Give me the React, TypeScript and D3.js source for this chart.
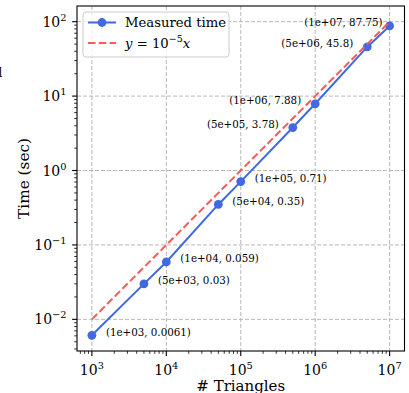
import React from "react";
import * as d3 from "d3";

const nTriangles = [1e3, 5e3, 1e4, 5e4, 1e5, 5e5, 1e6, 5e6, 1e7];
const timeSec = [0.0061, 0.03, 0.059, 0.35, 0.71, 3.78, 7.88, 45.8, 87.75];
const pointLabels = [
  "(1e+03, 0.0061)",
  "(5e+03, 0.03)",
  "(1e+04, 0.059)",
  "(5e+04, 0.35)",
  "(1e+05, 0.71)",
  "(5e+05, 3.78)",
  "(1e+06, 7.88)",
  "(5e+06, 45.8)",
  "(1e+07, 87.75)",
];
const refCoef = 1e-5;
const xTickExps = [3, 4, 5, 6, 7];
const yTickExps = [-2, -1, 0, 1, 2];
const legendLabels = ["Measured time"];

// annotation placement style (pixel offsets from the marker)
const labelDx = [14, 14, 14, 14, 14, -14, -14, -14, -7];
const labelDy = -3.5;

const W = 409;
const H = 393;
const left = 77;
const right = 404.5;
const top = 6;
const bottom = 351;

const FONT = "'DejaVu Serif', serif";
const BLUE = "#4169e1";
const RED = "#ff5a5a";

function minorTicks(domain: [number, number]) {
  const out: number[] = [];
  const lo = Math.floor(Math.log10(domain[0]));
  const hi = Math.ceil(Math.log10(domain[1]));
  for (let e = lo; e <= hi; e++) {
    for (let k = 2; k <= 9; k++) {
      const v = k * Math.pow(10, e);
      if (v >= domain[0] && v <= domain[1]) out.push(v);
    }
  }
  return out;
}

export default function App() {
  const xDom: [number, number] = [Math.pow(10, 2.8), Math.pow(10, 7.2)];
  const yLo = Math.log10(timeSec[0]);
  const yHi = Math.log10(refCoef * nTriangles[nTriangles.length - 1]);
  const yPad = (yHi - yLo) * 0.05;
  const yDom: [number, number] = [Math.pow(10, yLo - yPad), Math.pow(10, yHi + yPad)];
  const x = d3.scaleLog().domain(xDom).range([left, right]);
  const y = d3.scaleLog().domain(yDom).range([bottom, top]);

  const measuredLine = d3
    .line<number>()
    .x((_, i) => x(nTriangles[i]))
    .y((d) => y(d))(timeSec) as string;
  const refLine = d3
    .line<number>()
    .x((d) => x(d))
    .y((d) => y(refCoef * d))(nTriangles) as string;

  const xMinor = minorTicks(xDom);
  const yMinor = minorTicks(yDom);

  const gridStyle = { stroke: "#b0b0b0", strokeWidth: 0.9, strokeDasharray: "4,2" };

  return (
    <svg
      width={W}
      height={H}
      style={{ position: "absolute", left: 0, top: 0, background: "#fff" }}
      fontFamily={FONT}
    >
      <rect x={0} y={0} width={W} height={H} fill="#fff" />
      <text x={-1.5} y={77} fontSize={12} fill="#000">l</text>
      {/* grid */}
      {xTickExps.map((e) => (
        <line key={"gx" + e} x1={x(Math.pow(10, e))} x2={x(Math.pow(10, e))} y1={top} y2={bottom} {...gridStyle} />
      ))}
      {yTickExps.map((e) => (
        <line key={"gy" + e} x1={left} x2={right} y1={y(Math.pow(10, e))} y2={y(Math.pow(10, e))} {...gridStyle} />
      ))}
      {/* data */}
      <path d={measuredLine} fill="none" stroke={BLUE} strokeWidth={2} />
      {timeSec.map((t, i) => (
        <circle key={"m" + i} cx={x(nTriangles[i])} cy={y(t)} r={4.4} fill={BLUE} />
      ))}
      <path d={refLine} fill="none" stroke={RED} strokeWidth={2} strokeDasharray="7.5,3.3" />
      {/* annotations */}
      {pointLabels.map((lab, i) => (
        <text
          key={"a" + i}
          x={x(nTriangles[i]) + labelDx[i]}
          y={y(timeSec[i]) + labelDy}
          fontSize={10.3}
          dominantBaseline="central"
          textAnchor={labelDx[i] > 0 ? "start" : "end"}
          fill="#000"
        >
          {lab}
        </text>
      ))}
      {/* spines */}
      <rect x={left} y={top} width={right - left} height={bottom - top} fill="none" stroke="#000" strokeWidth={1.1} />
      {/* x ticks */}
      {xMinor.map((v, i) => (
        <line key={"xm" + i} x1={x(v)} x2={x(v)} y1={bottom} y2={bottom + 2.8} stroke="#000" strokeWidth={0.8} />
      ))}
      {xTickExps.map((e) => (
        <g key={"xt" + e} transform={`translate(${x(Math.pow(10, e))},${bottom})`}>
          <line y1={0} y2={4.9} stroke="#000" strokeWidth={1.1} />
          <text y={23.5} textAnchor="middle" fontSize={14} fill="#000">
            10<tspan fontSize={9.8} dy={-6}>{e}</tspan>
          </text>
        </g>
      ))}
      {/* y ticks */}
      {yMinor.map((v, i) => (
        <line key={"ym" + i} x1={left - 2.8} x2={left} y1={y(v)} y2={y(v)} stroke="#000" strokeWidth={0.8} />
      ))}
      {yTickExps.map((e) => (
        <g key={"yt" + e} transform={`translate(${left},${y(Math.pow(10, e))})`}>
          <line x1={-4.9} x2={0} stroke="#000" strokeWidth={1.1} />
          <text x={-10.5} y={5} textAnchor="end" fontSize={14} fill="#000">
            10<tspan fontSize={9.8} dy={-6}>{e < 0 ? "\u2212" + Math.abs(e) : e}</tspan>
          </text>
        </g>
      ))}
      {/* axis labels */}
      <text x={(left + right) / 2} y={390.5} textAnchor="middle" fontSize={15} fill="#000">
        # Triangles
      </text>
      <text
        transform={`translate(29,${(top + bottom) / 2}) rotate(-90)`}
        textAnchor="middle"
        fontSize={15.3}
        fill="#000"
      >
        Time (sec)
      </text>
      {/* legend */}
      <g>
        <rect x={83} y={12} width={146} height={45} rx={3} fill="#fff" fillOpacity={0.8} stroke="#cccccc" strokeWidth={1} />
        <line x1={88} x2={116} y1={22.5} y2={22.5} stroke={BLUE} strokeWidth={2} />
        <circle cx={102} cy={22.5} r={4.4} fill={BLUE} />
        <text x={125} y={22.5} fontSize={13.2} dominantBaseline="central" fill="#000">
          {legendLabels[0]}
        </text>
        <line x1={88} x2={116} y1={43} y2={43} stroke={RED} strokeWidth={2} strokeDasharray="7.5,3.3" />
        <text x={125} y={47.5} fontSize={13.2} fill="#000">
          <tspan fontStyle="italic">y</tspan>
          <tspan> = 10</tspan>
          <tspan fontSize={9.5} dy={-6}>{"\u2212" + 5}</tspan>
          <tspan dy={6} fontStyle="italic">x</tspan>
        </text>
      </g>
    </svg>
  );
}
